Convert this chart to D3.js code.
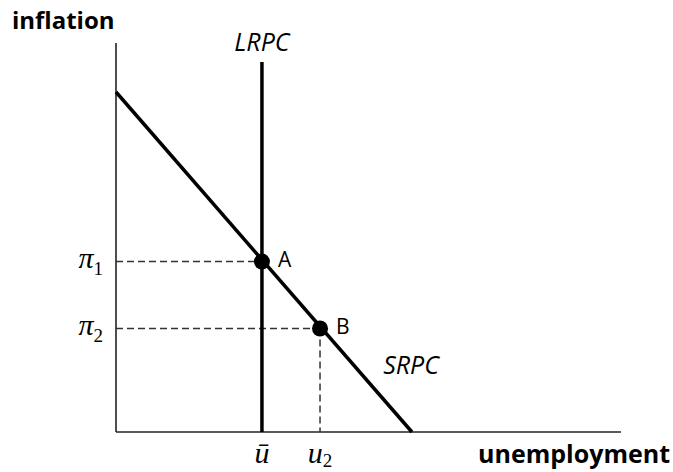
<!DOCTYPE html>
<html>
<head>
<meta charset="utf-8">
<script src="https://cdn.jsdelivr.net/npm/d3@7"></script>
<style>
  body { margin: 0; background: #fff; }
  svg { display: block; }
</style>
</head>
<body>
<svg></svg>
<script>
const width = 673;
const height = 472;

// curve data (in chart units, 0-100 on both axes)
const lrpc = [{ u: 28.9, pi: 0 }, { u: 28.9, pi: 95.1 }];
const srpc = [{ u: 0, pi: 87.4 }, { u: 58.6, pi: 0 }];
const points = [
  { label: "A", u: 28.9, pi: 43.8 },
  { label: "B", u: 40.4, pi: 26.6 }
];
const yTicks = [{ sym: "π", sub: "1", pi: 43.8 }, { sym: "π", sub: "2", pi: 26.6 }];
const xTicks = [{ sym: "ū", sub: "", u: 28.9 }, { sym: "u", sub: "2", u: 40.4 }];

const x = d3.scaleLinear().domain([0, 100]).range([116, 621]);
const y = d3.scaleLinear().domain([0, 100]).range([432, 43]);

const svg = d3.select("svg")
  .attr("width", width)
  .attr("height", height);

// axes
svg.append("line")
  .attr("x1", x(0)).attr("y1", y(0))
  .attr("x2", x(0)).attr("y2", y(100))
  .attr("stroke", "#222").attr("stroke-width", 1.6);
svg.append("line")
  .attr("x1", x(0)).attr("y1", y(0))
  .attr("x2", x(100)).attr("y2", y(0))
  .attr("stroke", "#222").attr("stroke-width", 1.6);

// dashed guides
const guides = svg.append("g")
  .attr("stroke", "#333")
  .attr("stroke-width", 1.5)
  .attr("stroke-dasharray", "7,4");
points.forEach(p => {
  guides.append("line")
    .attr("x1", x(0)).attr("y1", y(p.pi))
    .attr("x2", x(p.u)).attr("y2", y(p.pi));
  guides.append("line")
    .attr("x1", x(p.u)).attr("y1", y(p.pi))
    .attr("x2", x(p.u)).attr("y2", y(0));
});

const line = d3.line().x(d => x(d.u)).y(d => y(d.pi));

svg.append("path")
  .attr("d", line(lrpc))
  .attr("fill", "none")
  .attr("stroke", "#000")
  .attr("stroke-width", 3.5);

svg.append("path")
  .attr("d", line(srpc))
  .attr("fill", "none")
  .attr("stroke", "#000")
  .attr("stroke-width", 3.5);

// points
svg.selectAll(".pt")
  .data(points)
  .enter().append("circle")
  .attr("class", "pt")
  .attr("cx", d => x(d.u))
  .attr("cy", d => y(d.pi))
  .attr("r", 8)
  .attr("fill", "#000");

svg.selectAll(".ptlabel")
  .data(points)
  .enter().append("text")
  .attr("class", "ptlabel")
  .attr("x", d => x(d.u) + 16)
  .attr("y", d => y(d.pi) + 5)
  .attr("font-family", "Open Sans, sans-serif")
  .attr("font-size", 21)
  .text(d => d.label);

// curve labels
svg.append("text")
  .attr("x", x(28.9)).attr("y", 51)
  .attr("text-anchor", "middle")
  .attr("font-family", "Open Sans, sans-serif")
  .attr("font-style", "italic")
  .attr("font-size", 25)
  .text("LRPC");
svg.append("text")
  .attr("x", 411).attr("y", 374)
  .attr("text-anchor", "middle")
  .attr("font-family", "Open Sans, sans-serif")
  .attr("font-style", "italic")
  .attr("font-size", 25)
  .text("SRPC");

// axis titles
svg.append("text")
  .attr("x", 12).attr("y", 29)
  .attr("font-family", "Open Sans, sans-serif")
  .attr("font-weight", "bold")
  .attr("font-size", 24)
  .text("inflation");
svg.append("text")
  .attr("x", 670).attr("y", 463)
  .attr("text-anchor", "end")
  .attr("font-family", "Open Sans, sans-serif")
  .attr("font-weight", "bold")
  .attr("font-size", 25)
  .text("unemployment");

// tick labels (math)
const yt = svg.selectAll(".ytick")
  .data(yTicks)
  .enter().append("text")
  .attr("class", "ytick")
  .attr("x", x(0) - 13)
  .attr("y", d => y(d.pi) + 6)
  .attr("text-anchor", "end")
  .attr("font-family", "Liberation Serif, serif")
  .attr("font-style", "italic")
  .attr("font-size", 30);
yt.append("tspan").text(d => d.sym);
yt.append("tspan")
  .attr("dy", 7)
  .attr("font-style", "normal")
  .attr("font-size", 19)
  .text(d => d.sub);

const xt = svg.selectAll(".xtick")
  .data(xTicks)
  .enter().append("text")
  .attr("class", "xtick")
  .attr("x", d => x(d.u))
  .attr("y", 463)
  .attr("text-anchor", "middle")
  .attr("font-family", "Liberation Serif, serif")
  .attr("font-style", "italic")
  .attr("font-size", 30);
xt.append("tspan").text(d => d.sym);
xt.append("tspan")
  .attr("dy", 4)
  .attr("font-style", "normal")
  .attr("font-size", 19)
  .text(d => d.sub);
</script>
</body>
</html>
